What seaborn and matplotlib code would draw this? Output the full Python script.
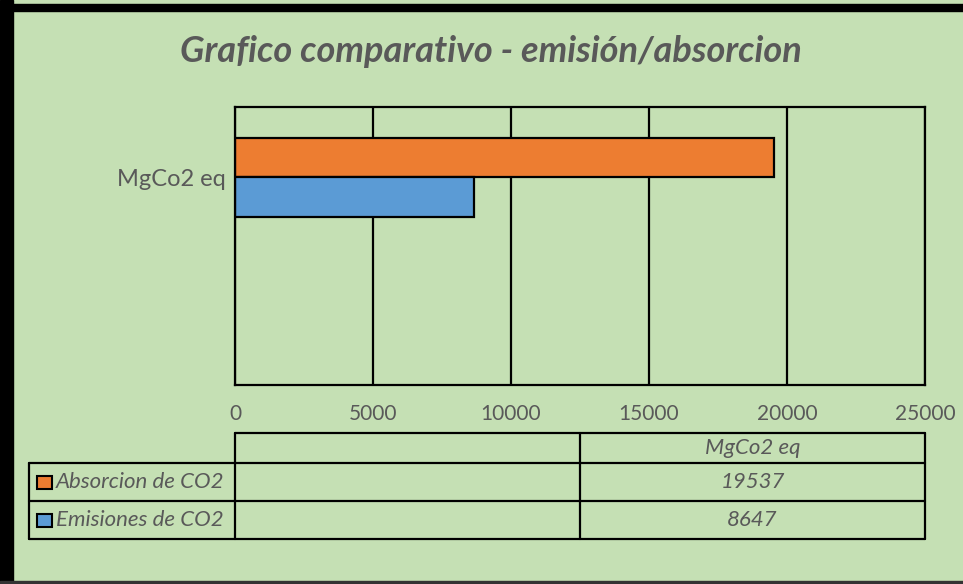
import pandas as pd
import matplotlib.pyplot as plt
import seaborn as sns
from matplotlib.patches import Rectangle

categoria = ["MgCo2 eq"]
series = ["Absorcion de CO2", "Emisiones de CO2"]
valores = [19537, 8647]
ticks_x = [0, 5000, 10000, 15000, 20000, 25000]

verde = "#C5E0B4"
colores = ["#ED7D31", "#5B9BD5"]
gris = "#595959"

df = pd.DataFrame({
    "categoria": categoria * len(series),
    "serie": series,
    "valor": valores,
})

sns.set_theme(style="white")
plt.rcParams["font.family"] = ["Lato", "DejaVu Sans"]

W, H = 963, 584
fig = plt.figure(figsize=(W / 100, H / 100), dpi=100, facecolor=verde)


def box(x0, y0, x1, y1):
    # pixel box (origin top-left) -> figure fraction
    return [x0 / W, 1 - y1 / H, (x1 - x0) / W, (y1 - y0) / H]


# grafico de barras
ax = fig.add_axes(box(235, 107, 925, 385))
ax.set_facecolor(verde)
sns.barplot(
    data=df, x="valor", y="categoria", hue="serie",
    palette=colores, saturation=1, orient="h", width=0.8,
    edgecolor="black", linewidth=1.6, legend=False, ax=ax
)
ax.set_xlim(0, 25000)
ax.set_xticks(ticks_x)
ax.set_ylim(2.106, -0.709)
ax.xaxis.grid(True, color="black", linewidth=1.6)
ax.yaxis.grid(False)
ax.set_axisbelow(True)
for s in ax.spines.values():
    s.set_visible(True)
    s.set_color("black")
    s.set_linewidth(1.6)
ax.tick_params(axis="x", length=0, pad=14, labelsize=15, labelcolor=gris)
ax.tick_params(axis="y", length=0, pad=7, labelsize=17, labelcolor=gris)
ax.set_xlabel("")
ax.set_ylabel("")

# tabla de datos
xmax = ticks_x[-1]
x_izq = -(235 - 29) * xmax / 690
filas = [0, 30, 68, 106]
tab = fig.add_axes(box(29, 433, 925, 539))
tab.set_xlim(x_izq, xmax)
tab.set_ylim(filas[-1], filas[0])
tab.axis("off")
kw = dict(color="black", linewidth=1.6, clip_on=False)
tab.plot([0, xmax], [filas[0], filas[0]], **kw)
for y in filas[1:]:
    tab.plot([x_izq, xmax], [y, y], **kw)
for x in [0, xmax / 2, xmax]:
    tab.plot([x, x], [filas[0], filas[-1]], **kw)
tab.plot([x_izq, x_izq], [filas[1], filas[-1]], **kw)

x_val = xmax * 3 / 4
tab.text(x_val, (filas[0] + filas[1]) / 2, categoria[0], ha="center",
         va="center", fontsize=16, style="italic", color=gris)
px = xmax / 690
for i, (serie, valor, c) in enumerate(zip(series, valores, colores)):
    yc = (filas[i + 1] + filas[i + 2]) / 2
    tab.add_patch(Rectangle((x_izq + 8 * px, yc - 6.5), 15 * px, 13,
                            facecolor=c, edgecolor="black", linewidth=1.5,
                            clip_on=False))
    tab.text(x_izq + 27 * px, yc, serie, ha="left", va="center",
             fontsize=16, style="italic", color=gris)
    tab.text(x_val, yc, str(valor), ha="center", va="center",
             fontsize=16, style="italic", color=gris)

# titulo
fig.text(491 / W, 1 - 52 / H, "Grafico comparativo - emisión/absorcion",
         ha="center", va="center", fontsize=26, style="italic",
         weight="bold", color=gris)

# marco
fig.add_artist(Rectangle((0, 1 - 11 / H), 1, 7 / H, transform=fig.transFigure,
                         color="black"))
fig.add_artist(Rectangle((0, 0), 13 / W, 1, transform=fig.transFigure,
                         color="black"))
fig.add_artist(Rectangle((0, 1 - 583 / H), 1, 2 / H, transform=fig.transFigure,
                         color="#333333"))

fig.savefig("out.png", dpi=100, facecolor=verde)
